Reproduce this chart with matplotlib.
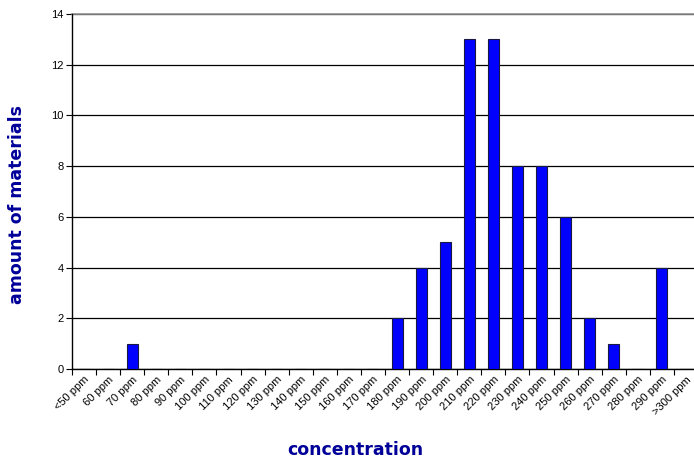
import matplotlib
matplotlib.use("Agg")
import matplotlib.pyplot as plt
import numpy as np

categories = ["<50 ppm"] + [f"{v} ppm" for v in range(60, 300, 10)] + [">300 ppm"]
counts = [0, 0, 1, 0, 0, 0, 0, 0, 0, 0, 0, 0, 0,
          2, 4, 5, 13, 13, 8, 8, 6, 2, 1, 0, 4, 0]

fig = plt.figure(figsize=(6.94, 4.59), dpi=100)
ax = fig.add_axes([72 / 694, 1 - 369 / 459, 626 / 694, 355 / 459])

x = np.arange(len(categories))
ax.bar(x, counts, width=0.46, color="#0000ff", edgecolor="#1a1a40", linewidth=0.8, zorder=3)

ax.set_xlim(-0.5, len(categories) - 0.5)
ax.set_ylim(0, 14)
ax.set_yticks(range(0, 15, 2))
ax.yaxis.grid(True, color="black", linewidth=0.9, zorder=1)

# ticks sit on category boundaries, labels centred on categories
ax.set_xticks(x - 0.5, minor=False)
ax.set_xticklabels([])
ax.set_xticks(x, minor=True)
ax.set_xticklabels(categories, minor=True, rotation=45, ha="right", rotation_mode="anchor",
                   fontsize=8, family="Liberation Sans")
ax.tick_params(axis="x", which="minor", length=0, pad=4)
ax.tick_params(axis="x", which="major", length=4, width=0.8, direction="out")
ax.tick_params(axis="y", length=4, width=0.8, labelsize=8, pad=2)
for lab in ax.get_yticklabels():
    lab.set_family("Liberation Sans")

for side in ("top", "right"):
    ax.spines[side].set_visible(False)
ax.spines["left"].set_linewidth(1.0)
ax.spines["bottom"].set_linewidth(1.0)
ax.axhline(14, color="#909090", linewidth=1.2, zorder=2, clip_on=False)

fig.text(17 / 694, 1 - 205 / 459, "amount of materials", rotation=90, ha="center", va="center",
         fontsize=12.5, fontweight="bold", color="#000099")
fig.text(355 / 694, 1 - 450 / 459, "concentration", ha="center", va="center",
         fontsize=12.5, fontweight="bold", color="#000099")

fig.savefig("out.png", dpi=100)
